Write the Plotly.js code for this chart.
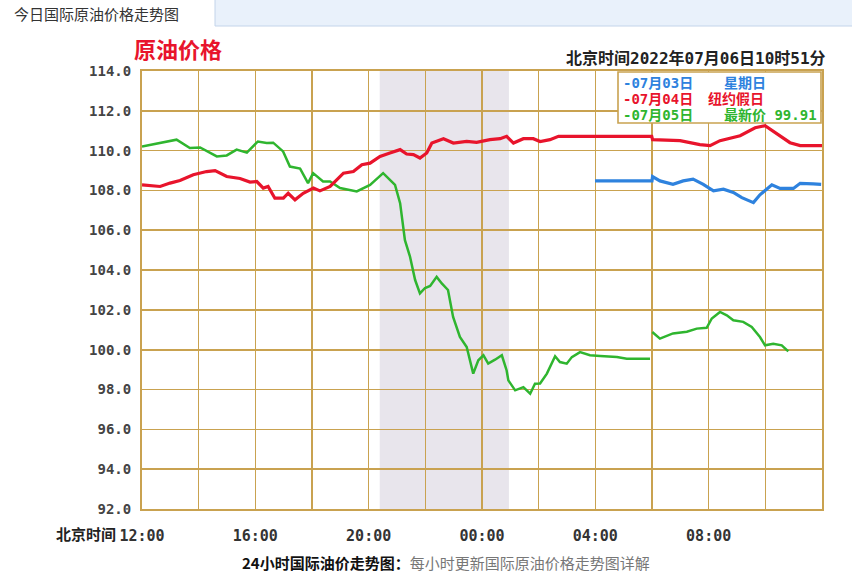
<!DOCTYPE html>
<html>
<head>
<meta charset="utf-8">
<script src="https://cdn.plot.ly/plotly-3.0.1.min.js"></script>
<style>html,body{margin:0;padding:0;background:#fff;}#chart{width:852px;height:574px;}</style>
</head>
<body>
<div id="chart"></div>
<script>
// Hours after 12:00 Beijing time (07-05 12:00 -> 07-06 12:00)
const tickHours = [0,2,4,6,8,10,12,14,16,18,20,22,24];
const tickLabels = ['12:00','','16:00','','20:00','','00:00','','04:00','','08:00','',''];

// 07月05日 (green) – null marks the gap at 06:00
const greenHours = [0,0.64,1.22,1.69,2.05,2.64,2.99,3.34,3.70,4.09,4.40,4.63,4.98,5.22,5.58,5.86,6.04,6.39,6.64,6.99,7.58,8.05,8.51,8.93,9.11,9.28,9.46,9.64,9.81,9.99,10.17,10.40,10.58,10.80,10.98,11.22,11.46,11.69,11.87,12.05,12.22,12.46,12.70,12.87,12.93,13.17,13.46,13.70,13.87,14.05,14.29,14.58,14.75,14.99,15.17,15.46,15.81,16.17,16.76,17.11,17.93,17.99,
  18.01,18.28,18.74,19.23,19.58,19.93,20.11,20.40,20.64,20.87,21.22,21.52,21.81,21.99,22.28,22.58,22.81];
const greenPrice = [110.21,110.40,110.55,110.13,110.16,109.71,109.76,110.05,109.90,110.46,110.38,110.40,109.96,109.20,109.10,108.37,108.87,108.45,108.45,108.12,107.95,108.28,108.87,108.28,107.36,105.50,104.67,103.50,102.83,103.10,103.20,103.66,103.33,103.00,101.65,100.64,100.14,98.80,99.47,99.72,99.30,99.50,99.72,98.96,98.46,97.96,98.12,97.79,98.29,98.30,98.80,99.67,99.38,99.30,99.63,99.88,99.72,99.68,99.63,99.55,99.55,null,
  100.89,100.56,100.82,100.90,101.06,101.10,101.57,101.90,101.73,101.48,101.40,101.14,100.64,100.22,100.30,100.22,99.92];

// 07月04日 (red)
const redHours = [0,0.64,0.99,1.34,1.81,2.28,2.58,2.99,3.46,3.81,4.05,4.28,4.45,4.69,4.99,5.16,5.40,5.69,6.05,6.28,6.64,7.11,7.46,7.76,8.05,8.40,8.75,9.11,9.34,9.58,9.81,10.05,10.23,10.64,10.99,11.46,11.81,12.28,12.64,12.87,13.11,13.46,13.81,14.05,14.40,14.70,17.99,18.02,18.99,19.69,20.05,20.40,21.11,21.64,21.99,22.34,22.87,23.23,24.0];
const redPrice = [108.28,108.20,108.37,108.50,108.79,108.95,109.00,108.70,108.60,108.42,108.45,108.12,108.20,107.61,107.61,107.86,107.53,107.86,108.12,107.98,108.20,108.87,108.95,109.29,109.37,109.71,109.88,110.05,109.83,109.80,109.63,109.88,110.38,110.60,110.38,110.46,110.42,110.55,110.60,110.72,110.38,110.60,110.60,110.46,110.55,110.72,110.72,110.55,110.50,110.30,110.25,110.50,110.75,111.15,111.25,110.90,110.40,110.25,110.25];

// 07月03日 (blue)
const blueHours = [15.99,18.0,18.02,18.28,18.74,19.10,19.45,19.81,20.17,20.52,20.87,21.17,21.58,21.81,22.23,22.52,22.99,23.23,23.69,23.97];
const bluePrice = [108.48,108.48,108.70,108.48,108.31,108.48,108.57,108.31,107.98,108.06,107.90,107.64,107.39,107.78,108.28,108.10,108.10,108.36,108.33,108.31];

// shaded session window (hours after 12:00)
const shadeHours = [8.39, 12.95];

const W = 852, H = 574, L = 142, R = 822, T = 71, B = 509;
const px = v => (v - L) / (R - L);
const py = v => (B - v) / (B - T);
const gold = '#c9a250';

const traces = [
  {x: greenHours, y: greenPrice, mode: 'lines', line: {color: '#2fb52f', width: 2.5}, connectgaps: false},
  {x: redHours, y: redPrice, mode: 'lines', line: {color: '#e8142c', width: 3.2}},
  {x: blueHours, y: bluePrice, mode: 'lines', line: {color: '#2e82de', width: 3.2}}
];

const mono = 'DejaVu Sans Mono, Noto Sans CJK SC, monospace';
const cjk = 'Noto Sans CJK SC, sans-serif';

const layout = {
  width: W, height: H,
  margin: {l: L, r: W - R, t: T, b: H - B, pad: 0},
  paper_bgcolor: '#fff', plot_bgcolor: '#fff',
  showlegend: false,
  title: {text: '原油价格', xref: 'container', yref: 'container', x: 134 / W, xanchor: 'left', y: 1 - 50 / H, yanchor: 'middle',
          font: {family: cjk, size: 22, color: '#e8142c', weight: 700}},
  xaxis: {range: [0, 24], tickvals: tickHours, ticktext: tickLabels, showgrid: true, gridcolor: gold, gridwidth: 1.6,
          zeroline: false, showline: true, linecolor: gold, linewidth: 2, mirror: true,
          ticks: 'outside', ticklen: 12, tickcolor: 'rgba(0,0,0,0)',
          tickfont: {family: mono, size: 15, color: '#333', weight: 700}, fixedrange: true},
  yaxis: {range: [92, 114], dtick: 2, tick0: 92, tickformat: '.1f', showgrid: true, gridcolor: gold, gridwidth: 1.6,
          zeroline: false, showline: true, linecolor: gold, linewidth: 2, mirror: true,
          ticks: 'outside', ticklen: 6, tickcolor: 'rgba(0,0,0,0)',
          tickfont: {family: mono, size: 14, color: '#444', weight: 700}, fixedrange: true},
  shapes: [
    {type: 'rect', layer: 'below', xref: 'x', yref: 'paper', x0: shadeHours[0], x1: shadeHours[1], y0: 0, y1: 1,
     fillcolor: '#e8e5ec', line: {width: 0}},
    // legend box
    {type: 'rect', layer: 'above', xref: 'paper', yref: 'paper', x0: px(618), x1: px(821), y0: py(123), y1: py(72),
     fillcolor: '#fff', line: {color: gold, width: 1.6}},
    // header bar
    {type: 'rect', layer: 'above', xref: 'paper', yref: 'paper', x0: px(215), x1: px(853), y0: py(26), y1: py(-1),
     fillcolor: '#e9f1fb', line: {color: '#c3d4ea', width: 1}}
  ],
  annotations: [
    {text: '今日国际原油价格走势图', xref: 'paper', yref: 'paper', x: px(12), y: py(14), xanchor: 'left', yanchor: 'middle',
     showarrow: false, font: {family: cjk, size: 15, color: '#333'}},
    {text: '北京时间2022年07月06日10时51分', xref: 'paper', yref: 'paper', x: px(828), y: py(59), xanchor: 'right', yanchor: 'middle',
     showarrow: false, font: {family: mono, size: 16, color: '#222', weight: 700}},
    {text: '-07月03日', xref: 'paper', yref: 'paper', x: px(621), y: py(83), xanchor: 'left', yanchor: 'middle', showarrow: false,
     font: {family: mono, size: 14, color: '#2e82de', weight: 700}},
    {text: '星期日', xref: 'paper', yref: 'paper', x: px(722), y: py(83), xanchor: 'left', yanchor: 'middle', showarrow: false,
     font: {family: mono, size: 14, color: '#2e82de', weight: 700}},
    {text: '-07月04日', xref: 'paper', yref: 'paper', x: px(621), y: py(99), xanchor: 'left', yanchor: 'middle', showarrow: false,
     font: {family: mono, size: 14, color: '#e8142c', weight: 700}},
    {text: '纽约假日', xref: 'paper', yref: 'paper', x: px(706), y: py(99), xanchor: 'left', yanchor: 'middle', showarrow: false,
     font: {family: mono, size: 14, color: '#e8142c', weight: 700}},
    {text: '-07月05日', xref: 'paper', yref: 'paper', x: px(621), y: py(115), xanchor: 'left', yanchor: 'middle', showarrow: false,
     font: {family: mono, size: 14, color: '#2fb52f', weight: 700}},
    {text: '最新价 99.91', xref: 'paper', yref: 'paper', x: px(722), y: py(115), xanchor: 'left', yanchor: 'middle', showarrow: false,
     font: {family: mono, size: 14, color: '#2fb52f', weight: 700}},
    {text: '北京时间', xref: 'paper', yref: 'paper', x: px(118), y: py(533), xanchor: 'right', yanchor: 'middle', showarrow: false,
     font: {family: cjk, size: 15, color: '#222', weight: 700}},
    {text: '<b>24小时国际油价走势图：</b><span style="color:#777">每小时更新国际原油价格走势图详解</span>', xref: 'paper', yref: 'paper',
     x: px(446), y: py(562), xanchor: 'center', yanchor: 'middle', showarrow: false,
     font: {family: cjk, size: 15, color: '#111'}}
  ]
};

Plotly.newPlot('chart', traces, layout, {displayModeBar: false, staticPlot: true});
</script>
</body>
</html>
